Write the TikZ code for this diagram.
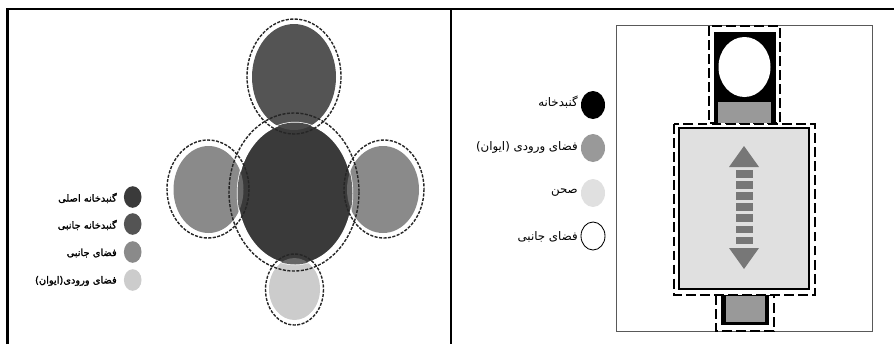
\documentclass[tikz,border=0pt]{standalone}
\usepackage{fontspec}
\usepackage{xcolor}
\usepackage{tikz}
\usetikzlibrary{positioning}
\TeXXeTstate=1
\newfontfamily\arabicfont[Script=Arabic,FakeBold=1.5]{DejaVu Sans}
\newfontfamily\arabiclight[Script=Arabic]{DejaVu Sans}
\definecolor{plmain}{RGB}{58,58,58}
\definecolor{pltop}{RGB}{84,84,84}
\definecolor{plside}{RGB}{138,138,138}
\definecolor{plbottom}{RGB}{204,204,204}
\definecolor{plgray}{RGB}{153,153,153}
\definecolor{plcourt}{RGB}{224,224,224}
\definecolor{plarrow}{RGB}{119,119,119}
\tikzset{
  planframe/.style={line width=1.5pt, draw=black},
  planthin/.style={line width=0.7pt, draw=black!65},
  ringdash/.style={draw=black!85, line width=1pt, dash pattern=on 2.2pt off 1pt},
  boxdash/.style={draw=black, line width=1.5pt, dash pattern=on 7pt off 3pt, fill=white},
  keytext/.style={anchor=east, inner sep=0pt, font=\fontsize{8.4}{10}\arabiclight},
  keybold/.style={anchor=east, inner sep=0pt, font=\fontsize{7}{8}\arabicfont}
}

\begin{document}
\begin{tikzpicture}[x=0.025cm,y=-0.025cm]
  \useasboundingbox (0,0) rectangle (894,344);
  % table rules
  \draw[planframe] (7.5,344) -- (7.5,9) -- (894,9);
  \draw[planframe] (451,9) -- (451,344);
  % left plan
  \foreach \cx/\cy/\rx/\ry/\fc/\oc in {294/77/42/53/pltop/pltop!90!black, 208.5/189.5/35/43.5/plside/black!60, 383/189.5/36/43.5/plside/black!60, 294.5/289/25.5/31/plbottom/black!60}{
    \fill[\fc] (\cx,\cy) ellipse [x radius=\rx, y radius=\ry];
  }
  \filldraw[fill=plmain, draw=white, line width=1pt] (295,193.5) ellipse [x radius=57.5, y radius=71];
  \foreach \cx/\cy/\rx/\ry/\fc/\oc in {294/77/42/53/pltop/pltop!90!black, 208.5/189.5/35/43.5/plside/black!60, 383/189.5/36/43.5/plside/black!60, 294.5/289/25.5/31/plbottom/black!60}{
    \begin{scope}
      \clip (\cx,\cy) ellipse [x radius=\rx, y radius=\ry];
      \fill[\oc] (295,193.5) ellipse [x radius=57.5, y radius=71];
    \end{scope}
  }
  \draw[ringdash] (294,192) ellipse [x radius=65, y radius=79];
  \draw[ringdash] (294,76.5) ellipse [x radius=47, y radius=57.5];
  \draw[ringdash] (208,189) ellipse [x radius=41, y radius=49];
  \draw[ringdash] (384,189) ellipse [x radius=40, y radius=49];
  \draw[ringdash] (294.5,289.5) ellipse [x radius=29, y radius=35.5];
  % left key
  \fill[plmain] (132.7,197) ellipse [x radius=8.8, y radius=10.8];
  \fill[pltop] (132.7,224) ellipse [x radius=8.8, y radius=10.8];
  \fill[plside] (132.7,252) ellipse [x radius=8.8, y radius=10.8];
  \fill[plbottom] (132.7,280) ellipse [x radius=8.8, y radius=10.8];
  \node[keybold] (domeMain) at (117,198) {\beginR گنبدخانه اصلی\endR};
  \node[keybold] (domeSide) at (117,225) {\beginR گنبدخانه جانبی\endR};
  \node[keybold] (spaceSide) at (117,253) {\beginR فضای جانبی\endR};
  \node[keybold] (spaceEntry) at (117,281) {\beginR فضای ورودی(ایوان)\endR};
  % right key
  \fill[black] (593,105) ellipse [x radius=12, y radius=14];
  \fill[plgray] (593,148) ellipse [x radius=12, y radius=14];
  \fill[plcourt] (593,193) ellipse [x radius=12, y radius=14];
  \draw[black, line width=0.6pt] (593,236) ellipse [x radius=12, y radius=14];
  \node[keytext] (keyDome) at (578,102) {\beginR گنبدخانه\endR};
  \node[keytext] (keyEntry) at (578,147) {\beginR فضای ورودی (ایوان)\endR};
  \node[keytext] (keyCourt) at (578,193) {\beginR صحن\endR};
  \node[keytext] (keySide) at (578,237) {\beginR فضای جانبی\endR};
  % right plan
  \draw[planthin] (616,25.7) rectangle (872,331);
  \filldraw[boxdash] (709,26) rectangle (780,123);
  \fill[black] (714,32) rectangle (776,123);
  \fill[white] (744.5,67) ellipse [x radius=26, y radius=30];
  \fill[plgray] (718,102) rectangle (771,123);
  \filldraw[boxdash] (716,295) rectangle (774,331);
  \fill[black] (721,295) rectangle (769,325);
  \fill[plgray] (725.5,296) rectangle (765,322);
  \filldraw[boxdash] (674,124) rectangle (815,295);
  \filldraw[fill=plcourt, draw=black, line width=1.5pt] (679,128) rectangle (809,289);
  \fill[plarrow] (744,146) -- (759,167) -- (729,167) -- cycle;
  \fill[plarrow] (744,269) -- (759,248) -- (729,248) -- cycle;
  \foreach \i in {0,...,6}{
    \fill[plarrow] (736,170+11.1*\i) rectangle (753,177.6+11.1*\i);
  }
\end{tikzpicture}
\end{document}
